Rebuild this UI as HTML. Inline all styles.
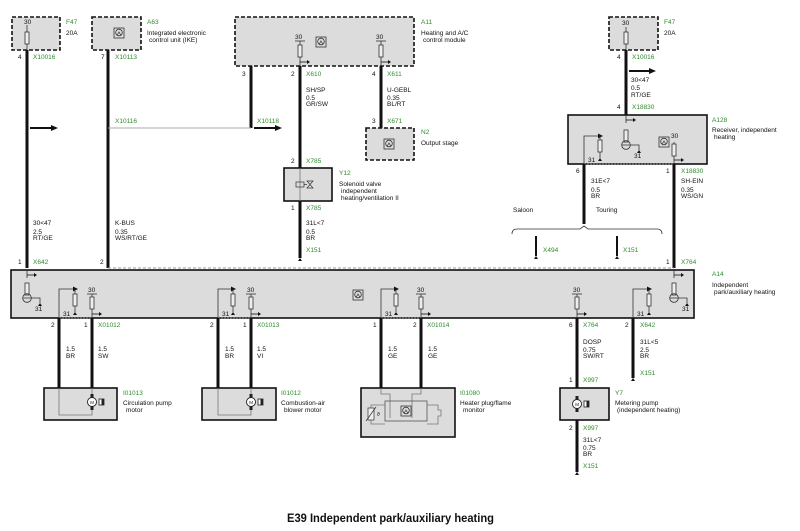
<!DOCTYPE html>
<html><head><meta charset="utf-8"><style>
html,body{margin:0;padding:0;background:#fff;}
svg{display:block;}
text{font-family:"Liberation Sans",sans-serif;font-size:6.5px;fill:#111;}
.g{fill:#2e8b2e;}
.box{fill:#dcdcdc;stroke:#111;stroke-width:1.6;}
.dbox{fill:#dcdcdc;stroke:#111;stroke-width:1.6;stroke-dasharray:4,2;}
.w{stroke:#111;stroke-width:3;fill:none;}
.t{stroke:#333;stroke-width:0.8;fill:none;}
.tg{stroke:#777;stroke-width:0.8;fill:none;}
.f{fill:#eee;stroke:#333;stroke-width:0.8;}
</style></head><body>
<svg width="800" height="531" viewBox="0 0 800 531" xmlns="http://www.w3.org/2000/svg">
<defs>
<g id="fuse"><rect class="f" x="-2" y="-6" width="4" height="12"/></g>
<g id="ecu"><rect x="-5" y="-5" width="10" height="10" fill="#ddd" stroke="#333" stroke-width="0.8"/><circle cx="0" cy="-0.5" r="3.3" fill="none" stroke="#333" stroke-width="0.8"/><path d="M-2 2.5 L0 -1 L2 2.5" fill="none" stroke="#333" stroke-width="0.7"/></g>
<g id="gnd"><path d="M-2 0 L2 0 L0 -3 Z" fill="#111"/></g>
<g id="arr"><path d="M0 0 L7 0" stroke="#111" stroke-width="0.8"/><path d="M7 -2 L10 0 L7 2 Z" fill="#111"/></g>
<g id="motor"><circle cx="0" cy="0" r="4.5" fill="#fff" stroke="#222" stroke-width="0.9"/><rect x="-1.5" y="-8" width="3" height="3.5" fill="#222"/><rect x="-1.5" y="4.5" width="3" height="3.5" fill="#222"/><text x="-1.8" y="2" style="font-size:4.5px">M</text><rect x="7" y="-3" width="5" height="6" fill="#fff" stroke="#222" stroke-width="0.8"/><rect x="9.5" y="-3" width="2.5" height="6" fill="#222"/></g>
<g id="relay"><path d="M0 -14 L0 -4" class="t"/><use href="#fuse" y="-9"/><circle cx="0" cy="0" r="4.3" fill="none" stroke="#333" stroke-width="0.8"/><path d="M-4 0 L4 0 M4 0 L13 0 L13 5" class="t"/><use href="#gnd" x="13" y="8"/></g>
</defs>

<!-- F47 left -->
<rect class="dbox" x="12" y="17" width="48" height="33"/>
<text x="24" y="24">30</text><line x1="27" y1="25" x2="27" y2="50" class="t"/><use href="#fuse" x="27" y="38"/>
<text class="g" x="66" y="24">F47</text><text x="66" y="35">20A</text>
<text x="18" y="59">4</text><text class="g" x="33" y="59">X10016</text>
<line x1="27" y1="50" x2="27" y2="268" class="w"/>

<!-- A63 -->
<rect class="dbox" x="92" y="17" width="49" height="33"/>
<use href="#ecu" x="119" y="33"/>
<text class="g" x="147" y="24">A63</text><text x="147" y="35">Integrated electronic</text><text x="149" y="42">control unit (IKE)</text>
<text x="101" y="59">7</text><text class="g" x="115" y="59">X10113</text>
<line x1="108" y1="50" x2="108" y2="268" class="w"/>

<!-- A11 -->
<rect class="dbox" x="235" y="17" width="179" height="49"/>
<text x="295" y="39">30</text><line x1="295" y1="41" x2="305" y2="41" class="t"/><line x1="300" y1="41" x2="300" y2="66" class="t"/><use href="#fuse" x="300" y="51"/><use href="#arr" x="300" y="62"/>
<text x="376" y="39">30</text><line x1="376" y1="41" x2="386" y2="41" class="t"/><line x1="381" y1="41" x2="381" y2="66" class="t"/><use href="#fuse" x="381" y="51"/><use href="#arr" x="381" y="62"/>
<use href="#ecu" x="321" y="42"/>
<text class="g" x="421" y="24">A11</text><text x="421" y="35">Heating and A/C</text><text x="423" y="42">control module</text>
<text x="242" y="76">3</text><text x="291" y="76">2</text><text class="g" x="306" y="76">X610</text>
<text x="372" y="76">4</text><text class="g" x="387" y="76">X611</text>
<line x1="251" y1="66" x2="251" y2="128" class="w"/>
<line x1="300" y1="66" x2="300" y2="258" class="w"/>
<line x1="381" y1="66" x2="381" y2="128" class="w"/>
<text x="306" y="92">SH/SP</text><text x="306" y="100">0.5</text><text x="306" y="106">GR/SW</text>
<text x="387" y="92">U-GEBL</text><text x="387" y="100">0.35</text><text x="387" y="106">BL/RT</text>
<text x="372" y="123">3</text><text class="g" x="387" y="123">X671</text>

<!-- N2 -->
<rect class="dbox" x="366" y="128" width="48" height="32"/>
<use href="#ecu" x="389" y="144"/>
<text class="g" x="421" y="134">N2</text><text x="421" y="145">Output stage</text>

<!-- X10116 line -->
<line x1="108" y1="128" x2="251" y2="128" stroke="#aaa" stroke-width="1"/>
<text class="g" x="115" y="123">X10116</text><text class="g" x="257" y="123">X10118</text>
<line x1="30" y1="128" x2="52" y2="128" stroke="#111" stroke-width="2"/><path d="M51 125 L58 128 L51 131 Z" fill="#111"/>
<line x1="254" y1="128" x2="276" y2="128" stroke="#111" stroke-width="2"/><path d="M275 125 L282 128 L275 131 Z" fill="#111"/>

<!-- Y12 -->
<text x="291" y="163">2</text><text class="g" x="306" y="163">X785</text>
<rect class="box" x="284" y="168" width="48" height="33"/>
<line x1="300" y1="168" x2="300" y2="201" class="tg"/>
<rect x="296" y="182" width="8" height="5" fill="none" stroke="#333" stroke-width="0.7"/><path d="M304 184.5 L307 184.5 M307 181 L313 181 L307 188 L313 188 Z" fill="none" stroke="#333" stroke-width="0.7"/>
<text class="g" x="339" y="175">Y12</text><text x="339" y="186">Solenoid valve</text><text x="341" y="193">independent</text><text x="341" y="200">heating/ventilation II</text>
<text x="291" y="210">1</text><text class="g" x="306" y="210">X785</text>
<text x="306" y="225">31L&lt;7</text><text x="306" y="234">0.5</text><text x="306" y="240">BR</text>
<text class="g" x="306" y="252">X151</text><use href="#gnd" x="300" y="261"/>

<text x="33" y="225">30&lt;47</text><text x="33" y="234">2.5</text><text x="33" y="240">RT/GE</text>
<text x="115" y="225">K-BUS</text><text x="115" y="234">0.35</text><text x="115" y="240">WS/RT/GE</text>

<!-- right F47 -->
<rect class="dbox" x="609" y="17" width="49" height="33"/>
<text x="622" y="25">30</text><line x1="626" y1="27" x2="626" y2="50" class="t"/><use href="#fuse" x="626" y="38"/>
<text class="g" x="664" y="24">F47</text><text x="664" y="35">20A</text>
<text x="617" y="59">4</text><text class="g" x="632" y="59">X10016</text>
<line x1="626" y1="50" x2="626" y2="115" class="w"/>
<line x1="629" y1="71" x2="650" y2="71" stroke="#111" stroke-width="2"/><path d="M649 68 L656 71 L649 74 Z" fill="#111"/>
<text x="631" y="82">30&lt;47</text><text x="631" y="90">0.5</text><text x="631" y="97">RT/GE</text>
<text x="617" y="109">4</text><text class="g" x="632" y="109">X18830</text>

<!-- A128 -->
<rect class="box" x="568" y="115" width="139" height="49"/>
<line x1="626" y1="115" x2="626" y2="123" class="t"/><use href="#arr" x="626" y="120"/>
<use href="#relay" x="626" y="145"/><text x="634" y="158">31</text>
<path d="M584 164 L584 136 L600 136" class="t"/><path d="M598 133.5 L603 136 L598 138.5 Z" fill="#111"/>
<line x1="600" y1="136" x2="600" y2="158" class="t"/><use href="#fuse" x="600" y="146"/><use href="#gnd" x="600" y="161"/><text x="588" y="162">31</text>
<use href="#ecu" x="664" y="142"/><text x="671" y="138">30</text><line x1="674" y1="142" x2="674" y2="164" class="t"/><use href="#fuse" x="674" y="150"/><use href="#arr" x="674" y="160"/>
<text class="g" x="712" y="122">A128</text><text x="712" y="132">Receiver, independent</text><text x="714" y="139">heating</text>
<text x="576" y="173">6</text><text x="666" y="173">1</text><text class="g" x="681" y="173">X18830</text>
<line x1="584" y1="164" x2="674" y2="164" stroke="#888" stroke-width="0.8" stroke-dasharray="2,1"/>
<line x1="584" y1="164" x2="584" y2="224" class="w"/>
<line x1="674" y1="164" x2="674" y2="268" class="w"/>
<text x="591" y="183">31E&lt;7</text><text x="591" y="192">0.5</text><text x="591" y="198">BR</text>
<text x="681" y="183">SH-EIN</text><text x="681" y="192">0.35</text><text x="681" y="198">WS/GN</text>
<text x="513" y="212">Saloon</text><text x="596" y="212">Touring</text>
<path d="M512 234 Q512 229 517 229 L580 229 L584 226 L588 229 L657 229 Q662 229 662 234" class="t"/>
<line x1="536" y1="236" x2="536" y2="256" stroke="#111" stroke-width="2"/><use href="#gnd" x="536" y="259"/><text class="g" x="543" y="252">X494</text>
<line x1="617" y1="236" x2="617" y2="256" stroke="#111" stroke-width="2"/><use href="#gnd" x="617" y="259"/><text class="g" x="623" y="252">X151</text>

<!-- A14 -->
<text x="18" y="264">1</text><text class="g" x="33" y="264">X642</text><text x="100" y="264">2</text>
<text x="666" y="264">1</text><text class="g" x="681" y="264">X764</text>
<line x1="108" y1="268" x2="674" y2="268" stroke="#999" stroke-width="1" stroke-dasharray="3,2"/>
<rect class="box" x="11" y="270" width="683" height="48"/>
<line x1="27" y1="270" x2="27" y2="278" class="t"/><use href="#arr" x="27" y="275"/><use href="#relay" x="27" y="298"/><text x="35" y="311">31</text>
<line x1="674" y1="270" x2="674" y2="278" class="t"/><use href="#arr" x="674" y="275"/><use href="#relay" x="674" y="298"/><text x="682" y="311">31</text>
<text class="g" x="712" y="276">A14</text><text x="712" y="287">Independent</text><text x="714" y="294">park/auxiliary heating</text>
<use href="#ecu" x="358" y="295"/>

<!-- channel template helpers: pair pins -->
<!-- circ pump -->
<path d="M59 318 L59 289 L75 289" class="t"/><path d="M73 286.5 L78 289 L73 291.5 Z" fill="#111"/>
<line x1="75" y1="289" x2="75" y2="312" class="t"/><use href="#fuse" x="75" y="300"/><use href="#gnd" x="75" y="315"/><text x="63" y="316">31</text>
<text x="88" y="292">30</text><line x1="87" y1="294" x2="97" y2="294" class="t"/><line x1="92" y1="294" x2="92" y2="318" class="t"/><use href="#fuse" x="92" y="303"/><use href="#arr" x="92" y="314"/>
<line x1="59" y1="318" x2="92" y2="318" stroke="#888" stroke-width="0.8" stroke-dasharray="2,1"/>
<text x="51" y="327">2</text><text x="84" y="327">1</text><text class="g" x="98" y="327">X01012</text>
<line x1="59" y1="318" x2="59" y2="388" class="w"/><line x1="92" y1="318" x2="92" y2="388" class="w"/>
<text x="66" y="351">1.5</text><text x="66" y="358">BR</text><text x="98" y="351">1.5</text><text x="98" y="358">SW</text>
<rect class="box" x="44" y="388" width="73" height="32"/>
<path d="M59 388 L59 415 L92 415 L92 388" class="tg"/>
<use href="#motor" x="92" y="402"/>
<text class="g" x="123" y="395">I01013</text><text x="123" y="405">Circulation pump</text><text x="126" y="412">motor</text>

<!-- blower -->
<path d="M218 318 L218 289 L233 289" class="t"/><path d="M231 286.5 L236 289 L231 291.5 Z" fill="#111"/>
<line x1="233" y1="289" x2="233" y2="312" class="t"/><use href="#fuse" x="233" y="300"/><use href="#gnd" x="233" y="315"/><text x="222" y="316">31</text>
<text x="247" y="292">30</text><line x1="246" y1="294" x2="256" y2="294" class="t"/><line x1="251" y1="294" x2="251" y2="318" class="t"/><use href="#fuse" x="251" y="303"/><use href="#arr" x="251" y="314"/>
<line x1="218" y1="318" x2="251" y2="318" stroke="#888" stroke-width="0.8" stroke-dasharray="2,1"/>
<text x="210" y="327">2</text><text x="243" y="327">1</text><text class="g" x="257" y="327">X01013</text>
<line x1="218" y1="318" x2="218" y2="388" class="w"/><line x1="251" y1="318" x2="251" y2="388" class="w"/>
<text x="225" y="351">1.5</text><text x="225" y="358">BR</text><text x="257" y="351">1.5</text><text x="257" y="358">VI</text>
<rect class="box" x="202" y="388" width="74" height="32"/>
<path d="M218 388 L218 415 L251 415 L251 388" class="tg"/>
<use href="#motor" x="251" y="402"/>
<text class="g" x="281" y="395">I01012</text><text x="281" y="405">Combustion-air</text><text x="284" y="412">blower motor</text>

<!-- heater plug -->
<path d="M381 318 L381 289 L396 289" class="t"/><path d="M394 286.5 L399 289 L394 291.5 Z" fill="#111"/>
<line x1="396" y1="289" x2="396" y2="312" class="t"/><use href="#fuse" x="396" y="300"/><use href="#gnd" x="396" y="315"/><text x="385" y="316">31</text>
<text x="417" y="292">30</text><line x1="416" y1="294" x2="426" y2="294" class="t"/><line x1="421" y1="294" x2="421" y2="318" class="t"/><use href="#fuse" x="421" y="303"/><use href="#arr" x="421" y="314"/>
<line x1="381" y1="318" x2="421" y2="318" stroke="#888" stroke-width="0.8" stroke-dasharray="2,1"/>
<text x="373" y="327">1</text><text x="413" y="327">2</text><text class="g" x="427" y="327">X01014</text>
<line x1="381" y1="318" x2="381" y2="388" class="w"/><line x1="421" y1="318" x2="421" y2="388" class="w"/>
<text x="388" y="351">1.5</text><text x="388" y="358">GE</text><text x="428" y="351">1.5</text><text x="428" y="358">GE</text>
<rect class="box" x="361" y="388" width="94" height="49"/>
<path d="M381 388 L381 394 L390 394 L390 418 M421 388 L421 394 L412 394 L412 418" class="tg"/>
<rect x="385" y="401" width="42" height="20" fill="none" stroke="#555" stroke-width="0.8"/>
<path d="M385 405 L371 405 L371 424 L385 424 M427 405 L438 405 L438 410 L441 410 L441 416 L438 416 L438 424 L427 424" class="tg"/>
<rect x="368" y="408" width="6" height="12" fill="#eee" stroke="#333" stroke-width="0.7"/><line x1="366" y1="421" x2="376" y2="407" stroke="#333" stroke-width="0.7"/><text x="377" y="416" style="font-size:5px">ϑ</text>
<use href="#ecu" x="406" y="411"/>
<text class="g" x="460" y="395">I01080</text><text x="460" y="405">Heater plug/flame</text><text x="463" y="412">monitor</text>

<!-- metering -->
<text x="573" y="292">30</text><line x1="572" y1="294" x2="582" y2="294" class="t"/><line x1="577" y1="294" x2="577" y2="318" class="t"/><use href="#fuse" x="577" y="303"/><use href="#arr" x="577" y="314"/>
<text x="569" y="327">6</text><text class="g" x="583" y="327">X764</text>
<line x1="577" y1="318" x2="577" y2="388" class="w"/>
<text x="583" y="344">DOSP</text><text x="583" y="352">0.75</text><text x="583" y="358">SW/RT</text>
<text x="569" y="382">1</text><text class="g" x="583" y="382">X997</text>
<rect class="box" x="560" y="388" width="49" height="32"/>
<use href="#motor" x="577" y="404"/>
<text class="g" x="615" y="395">Y7</text><text x="615" y="405">Metering pump</text><text x="617" y="412">(independent heating)</text>
<text x="569" y="430">2</text><text class="g" x="583" y="430">X997</text>
<line x1="577" y1="420" x2="577" y2="472" class="w"/>
<text x="583" y="442">31L&lt;7</text><text x="583" y="450">0.75</text><text x="583" y="456">BR</text>
<text class="g" x="583" y="468">X151</text><use href="#gnd" x="577" y="475"/>

<!-- X642 ground -->
<path d="M633 318 L633 289 L649 289" class="t"/><path d="M647 286.5 L652 289 L647 291.5 Z" fill="#111"/>
<line x1="649" y1="289" x2="649" y2="312" class="t"/><use href="#fuse" x="649" y="300"/><use href="#gnd" x="649" y="315"/><text x="637" y="316">31</text>
<text x="625" y="327">2</text><text class="g" x="640" y="327">X642</text>
<line x1="633" y1="318" x2="633" y2="378" class="w"/>
<text x="640" y="344">31L&lt;5</text><text x="640" y="352">2.5</text><text x="640" y="358">BR</text>
<text class="g" x="640" y="375">X151</text><use href="#gnd" x="633" y="381"/>

<text x="287" y="522" textLength="207" lengthAdjust="spacingAndGlyphs" style="font-size:12px;font-weight:bold;">E39 Independent park/auxiliary heating</text>
</svg>
</body></html>
